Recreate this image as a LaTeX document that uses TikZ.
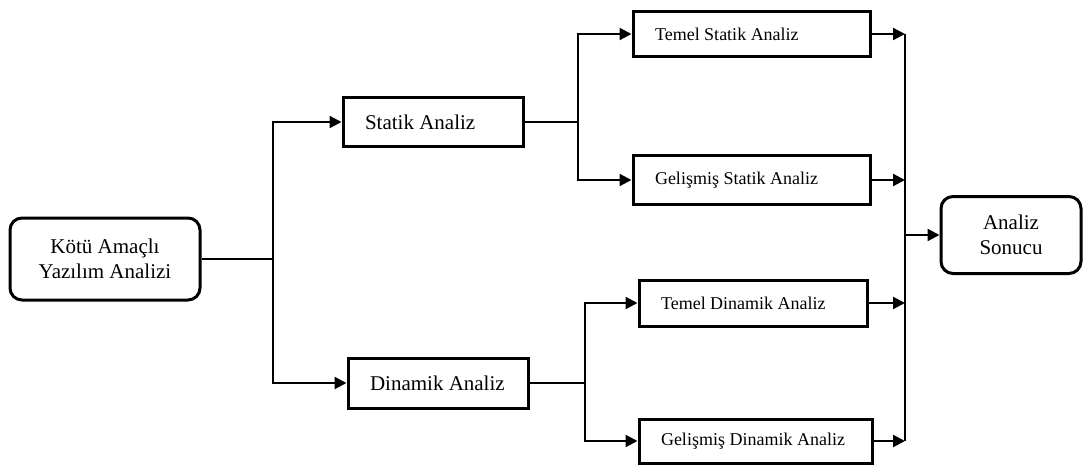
\documentclass[tikz,border=0pt]{standalone}
\usepackage{fontspec}
\setmainfont{Liberation Serif}
\usetikzlibrary{arrows.meta}
% label of a rectangular step: set flush left in a box of the given width
\newcommand{\stepLabel}[2]{\makebox[#1][l]{#2}}
\begin{document}
\begin{tikzpicture}[x=1pt,y=-1pt,
  box/.style={draw, line width=3pt, fill=white, inner sep=0pt, align=center},
  stepbox/.style={box, inner xsep=22pt},
  bigtxt/.style={font=\fontsize{21}{25}\selectfont},
  smalltxt/.style={font=\fontsize{18}{22}\selectfont},
  endbox/.style={box, bigtxt, rounded corners=12pt},
  conn/.style={line width=2.2pt, line join=miter},
  arr/.style={conn, -{Triangle[length=12pt,width=12pt]}}]
\useasboundingbox (0,0) rectangle (1083,465);

% boxes
\node[endbox, minimum width=190pt, minimum height=82pt] (kaa) at (105,259)
  {Kötü Amaçlı\\Yazılım Analizi};
\node[stepbox, bigtxt, minimum height=49pt] (statik) at (433,122)
  {\stepLabel{136pt}{Statik Analiz}};
\node[stepbox, bigtxt, minimum height=50pt] (dinamik) at (438,383)
  {\stepLabel{136pt}{Dinamik Analiz}};
\node[stepbox, smalltxt, minimum height=45pt] (tsa) at (751.5,34)
  {\stepLabel{193pt}{Temel Statik Analiz}};
\node[stepbox, smalltxt, minimum height=48pt] (gsa) at (751.5,180)
  {\stepLabel{193pt}{Gelişmiş Statik Analiz}};
\node[stepbox, smalltxt, minimum height=46pt] (tda) at (753,303)
  {\stepLabel{184pt}{Temel Dinamik Analiz}};
\node[stepbox, smalltxt, minimum height=44pt] (gda) at (755.5,441)
  {\stepLabel{189pt}{Gelişmiş Dinamik Analiz}};
\node[endbox, minimum width=140pt, minimum height=77pt] (as) at (1011,235) {Analiz\\Sonucu};

% branch and collector columns
\coordinate (b1) at (273,0);
\coordinate (b2) at (578,0);
\coordinate (b3) at (585,0);
\coordinate (bus) at (905,0);

% first split
\draw[arr] (kaa.east) -- (b1 |- kaa.east) |- (statik.west);
\draw[arr] (b1 |- kaa.east) |- (dinamik.west);

% static branch
\draw[arr] (statik.east) -- (b2 |- statik.east) |- (tsa.west);
\draw[arr] (b2 |- statik.east) |- (gsa.west);

% dynamic branch
\draw[arr] (dinamik.east) -- (b3 |- dinamik.east) |- (tda.west);
\draw[arr] (b3 |- dinamik.east) |- (gda.west);

% merge into the result
\draw[arr] (tsa.east) -- (bus |- tsa.east);
\draw[arr] (gsa.east) -- (bus |- gsa.east);
\draw[arr] (tda.east) -- (bus |- tda.east);
\draw[arr] (gda.east) -- (bus |- gda.east);
\draw[conn] (bus |- tsa.east) -- (bus |- gda.east);
\draw[arr] (bus |- as.west) -- (as.west);
\end{tikzpicture}
\end{document}
